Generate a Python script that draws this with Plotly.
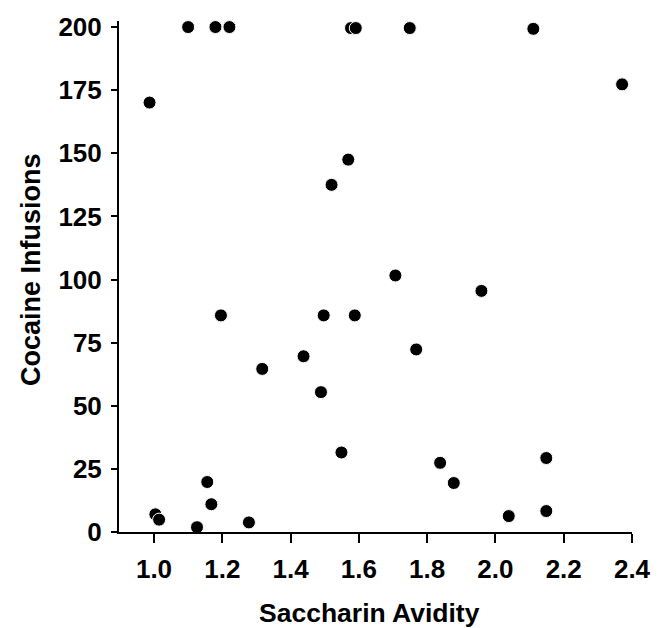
import plotly.graph_objects as go

saccharin_avidity = [1.100, 1.180, 1.221, 1.577, 1.591, 1.749, 2.111, 2.371,
                     0.987, 1.569, 1.520, 1.707, 1.959, 1.196, 1.497, 1.588,
                     1.768, 1.317, 1.438, 1.489, 1.549, 1.838, 1.878, 2.149,
                     2.149, 2.039, 1.156, 1.168, 1.004, 1.015, 1.126, 1.278]
cocaine_infusions = [200.0, 200.0, 200.0, 199.6, 199.6, 199.6, 199.3, 177.3,
                     170.1, 147.5, 137.5, 101.6, 95.5, 85.8, 85.8, 85.8,
                     72.3, 64.6, 69.6, 55.4, 31.5, 27.4, 19.4, 29.3,
                     8.3, 6.3, 19.8, 11.0, 7.0, 4.9, 1.9, 3.8]

x_ticks = [1.0, 1.2, 1.4, 1.6, 1.8, 2.0, 2.2, 2.4]
y_ticks = [0, 25, 50, 75, 100, 125, 150, 175, 200]
x_title = "Saccharin Avidity"
y_title = "Cocaine Infusions"

FONT = "Liberation Sans, Arial, Helvetica, sans-serif"

fig = go.Figure()
fig.add_trace(go.Scatter(
    x=saccharin_avidity, y=cocaine_infusions, mode="markers",
    marker=dict(color="black", size=13, line=dict(color="white", width=1)),
    cliponaxis=False, showlegend=False, hoverinfo="skip",
))

fig.update_layout(
    width=663, height=628,
    margin=dict(l=119, r=31, t=18, b=96),
    paper_bgcolor="white", plot_bgcolor="white",
    font=dict(family=FONT, color="black", size=26, weight="bold"),
    xaxis=dict(
        range=[0.8975, 2.4], tickvals=x_ticks, tickformat=".1f",
        ticks="outside", ticklen=9, tickwidth=2, tickcolor="black",
        showline=True, linewidth=2, linecolor="black",
        showgrid=False, zeroline=False, ticklabelstandoff=4,
        tickfont=dict(family=FONT, size=26, weight="bold"),
    ),
    yaxis=dict(
        range=[0, 202.4], tickvals=y_ticks,
        ticks="outside", ticklen=6, tickwidth=2, tickcolor="black",
        showline=True, linewidth=2, linecolor="black",
        showgrid=False, zeroline=False, ticklabelstandoff=4,
        tickfont=dict(family=FONT, size=26, weight="bold"),
    ),
    annotations=[
        dict(text=x_title, xref="paper", yref="paper",
             x=(369.5 - 119) / 513, y=(532 - 613.5) / 514,
             xanchor="center", yanchor="middle", showarrow=False,
             font=dict(family=FONT, size=26.5, weight="bold", color="black")),
        dict(text=y_title, xref="paper", yref="paper", textangle=-90,
             x=(30.5 - 119) / 513, y=(532 - 268) / 514,
             xanchor="center", yanchor="middle", showarrow=False,
             font=dict(family=FONT, size=27, weight="bold", color="black")),
    ],
)

fig.write_html("out.html", config={"displayModeBar": False},
               post_script="document.body.style.margin='0';document.body.style.padding='0';")
